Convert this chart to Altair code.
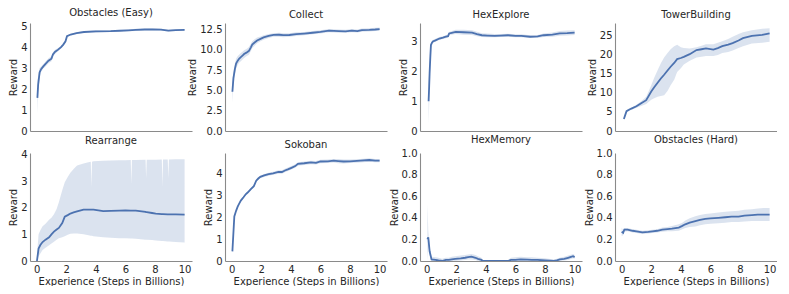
import altair as alt
import pandas as pd

BLUE = "#4c72b0"
TEXT = "#262626"
FONT = "DejaVu Sans"

# ---------------- data ----------------
names = ["Obstacles (Easy)", "Collect", "HexExplore", "TowerBuilding",
         "Rearrange", "Sokoban", "HexMemory", "Obstacles (Hard)"]

x_ticks = [0, 2, 4, 6, 8, 10]

# Obstacles (Easy)
oe_x = [0.05, 0.1, 0.2, 0.3, 0.45, 0.6, 0.8, 1.0, 1.1, 1.25, 1.45, 1.65, 1.8, 1.95, 2.05, 2.3, 2.7, 3.2, 4.0, 5.0, 5.6, 6.2, 6.7, 7.3, 7.8, 8.4, 8.9, 9.4, 10.0]
oe_m = [1.58, 2.2, 2.8, 2.95, 3.08, 3.2, 3.35, 3.45, 3.65, 3.78, 3.88, 4.0, 4.12, 4.28, 4.52, 4.6, 4.67, 4.72, 4.75, 4.76, 4.78, 4.8, 4.82, 4.84, 4.85, 4.83, 4.79, 4.81, 4.82]
oe_lo = [0.82, 1.8, 2.6, 2.83, 2.98, 3.08, 3.23, 3.33, 3.55, 3.68, 3.8, 3.93, 4.06, 4.23, 4.48, 4.56, 4.63, 4.68, 4.7, 4.72, 4.74, 4.76, 4.77, 4.8, 4.81, 4.79, 4.75, 4.77, 4.78]
oe_hi = [2.4, 2.6, 3.0, 3.07, 3.18, 3.32, 3.47, 3.57, 3.75, 3.88, 3.96, 4.07, 4.18, 4.33, 4.56, 4.64, 4.71, 4.76, 4.8, 4.8, 4.82, 4.84, 4.87, 4.88, 4.89, 4.87, 4.83, 4.85, 4.86]

# Collect
co_x = [0.05, 0.12, 0.22, 0.3, 0.4, 0.5, 0.62, 0.75, 0.84, 1.0, 1.17, 1.3, 1.39, 1.55, 1.72, 1.95, 2.16, 2.5, 2.83, 3.2, 3.49, 3.9, 4.37, 4.9, 5.47, 6.0, 6.58, 7.24, 7.7, 8.12, 8.5, 8.8, 9.3, 9.7, 10.0]
co_m = [4.84, 6.5, 7.66, 8.3, 8.63, 8.9, 9.09, 9.3, 9.48, 9.65, 9.87, 10.3, 10.64, 10.9, 11.15, 11.35, 11.53, 11.7, 11.84, 11.85, 11.8, 11.82, 11.92, 12.0, 12.1, 12.2, 12.35, 12.3, 12.28, 12.35, 12.3, 12.42, 12.45, 12.5, 12.55]
co_lo = [3.5, 5.6, 7.0, 7.7, 8.1, 8.4, 8.6, 8.85, 9.0, 9.2, 9.4, 9.85, 10.2, 10.5, 10.8, 11.05, 11.25, 11.45, 11.6, 11.6, 11.55, 11.6, 11.7, 11.8, 11.9, 12.0, 12.15, 12.1, 12.1, 12.15, 12.12, 12.22, 12.25, 12.3, 12.35]
co_hi = [6.0, 7.3, 8.3, 8.9, 9.2, 9.4, 9.6, 9.8, 9.95, 10.1, 10.35, 10.75, 11.05, 11.3, 11.5, 11.65, 11.8, 11.95, 12.05, 12.1, 12.05, 12.05, 12.15, 12.2, 12.3, 12.4, 12.55, 12.5, 12.48, 12.55, 12.5, 12.62, 12.65, 12.7, 12.75]

# HexExplore
he_x = [0.13, 0.17, 0.2, 0.25, 0.29, 0.35, 0.42, 0.6, 0.86, 1.1, 1.3, 1.45, 1.52, 1.7, 1.96, 2.5, 3.07, 3.4, 3.73, 4.1, 4.6, 5.0, 5.5, 6.0, 6.4, 7.0, 7.5, 7.9, 8.5, 9.0, 9.5, 10.0]
he_m = [1.0, 1.5, 1.94, 2.5, 2.88, 2.95, 3.0, 3.04, 3.1, 3.13, 3.16, 3.18, 3.27, 3.29, 3.32, 3.31, 3.3, 3.25, 3.21, 3.2, 3.19, 3.2, 3.21, 3.19, 3.19, 3.16, 3.17, 3.21, 3.23, 3.27, 3.28, 3.3]
he_lo = [0.25, 0.9, 1.6, 2.3, 2.8, 2.9, 2.95, 3.0, 3.05, 3.08, 3.11, 3.13, 3.22, 3.23, 3.25, 3.23, 3.22, 3.18, 3.15, 3.14, 3.14, 3.15, 3.16, 3.14, 3.14, 3.12, 3.12, 3.15, 3.16, 3.19, 3.2, 3.22]
he_hi = [1.6, 2.0, 2.3, 2.7, 2.96, 3.0, 3.05, 3.09, 3.15, 3.18, 3.21, 3.24, 3.32, 3.35, 3.39, 3.39, 3.38, 3.33, 3.28, 3.27, 3.25, 3.25, 3.26, 3.24, 3.24, 3.21, 3.22, 3.27, 3.3, 3.35, 3.37, 3.38]

# TowerBuilding
tb_x = [0.15, 0.25, 0.33, 0.5, 0.66, 1.0, 1.32, 1.66, 2.0, 2.2, 2.43, 2.65, 2.87, 3.1, 3.31, 3.55, 3.75, 4.0, 4.2, 4.6, 5.06, 5.4, 5.7, 6.2, 6.5, 6.8, 7.2, 7.5, 7.9, 8.2, 8.8, 9.5, 10.0]
tb_m = [3.16, 4.3, 5.2, 5.6, 5.9, 6.5, 7.3, 8.1, 10.4, 11.5, 12.7, 13.8, 14.8, 15.9, 16.9, 17.9, 18.9, 19.2, 19.5, 20.2, 21.3, 21.5, 21.7, 21.4, 21.8, 22.3, 22.7, 23.1, 23.8, 24.4, 25.0, 25.3, 25.7]
tb_lo = [2.9, 4.0, 4.9, 5.3, 5.6, 6.1, 6.6, 7.1, 8.2, 8.6, 9.0, 9.2, 9.4, 10.5, 12.0, 13.5, 15.5, 16.5, 17.5, 18.5, 19.3, 19.5, 19.7, 19.7, 20.0, 20.5, 20.8, 21.2, 21.8, 22.3, 23.0, 23.2, 23.5]
tb_hi = [3.4, 4.6, 5.5, 5.9, 6.2, 6.9, 7.8, 9.0, 12.0, 14.0, 16.0, 17.8, 19.3, 20.5, 21.5, 22.3, 22.7, 22.0, 21.8, 21.7, 22.0, 22.4, 22.8, 22.8, 23.2, 23.6, 24.2, 24.8, 25.5, 26.0, 26.5, 26.9, 27.0]

# Rearrange
re_x = [0.02, 0.13, 0.25, 0.4, 0.6, 0.84, 1.0, 1.17, 1.35, 1.5, 1.73, 1.9, 2.1, 2.28, 2.5, 2.73, 3.17, 3.5, 3.66, 3.7, 3.74, 3.84, 4.5, 5.0, 5.6, 6.0, 6.36, 6.4, 6.44, 6.7, 7.36, 7.4, 7.44, 7.8, 8.05, 8.46, 8.5, 8.54, 8.86, 8.9, 8.94, 9.4, 10.0]
re_m = [0.0, 0.47, 0.6, 0.71, 0.8, 0.89, 1.0, 1.1, 1.18, 1.24, 1.42, 1.66, 1.72, 1.78, 1.82, 1.86, 1.93, 1.93, 1.93, 1.93, 1.93, 1.93, 1.87, 1.88, 1.89, 1.9, 1.89, 1.89, 1.89, 1.89, 1.84, 1.83, 1.83, 1.8, 1.78, 1.76, 1.76, 1.76, 1.75, 1.75, 1.75, 1.75, 1.74]
re_lo = [0.0, 0.18, 0.28, 0.41, 0.5, 0.59, 0.66, 0.72, 0.8, 0.85, 0.89, 0.93, 0.98, 1.02, 1.03, 1.03, 1.0, 0.97, 0.95, 0.95, 0.95, 0.93, 0.89, 0.87, 0.85, 0.85, 0.84, 0.84, 0.84, 0.83, 0.8, 0.8, 0.8, 0.79, 0.77, 0.75, 0.75, 0.75, 0.73, 0.73, 0.73, 0.71, 0.69]
re_hi = [0.2, 1.0, 1.15, 1.3, 1.4, 1.55, 1.62, 1.75, 1.95, 2.2, 2.65, 2.95, 3.15, 3.31, 3.45, 3.58, 3.66, 3.7, 3.72, 2.78, 3.72, 3.74, 3.76, 3.77, 3.78, 3.78, 3.79, 2.9, 3.79, 3.79, 3.8, 3.1, 3.8, 3.8, 3.8, 3.81, 2.78, 3.81, 3.81, 3.1, 3.81, 3.82, 3.82]

# Sokoban
so_x = [0.05, 0.18, 0.3, 0.4, 0.5, 0.62, 0.8, 0.95, 1.1, 1.28, 1.5, 1.66, 1.8, 1.94, 2.2, 2.5, 2.8, 3.16, 3.4, 3.6, 3.8, 4.04, 4.3, 4.48, 4.9, 5.36, 5.7, 6.0, 6.5, 6.9, 7.2, 7.57, 8.0, 8.7, 9.3, 9.7, 10.0]
so_m = [0.44, 2.04, 2.3, 2.48, 2.62, 2.77, 2.92, 3.06, 3.15, 3.28, 3.43, 3.68, 3.78, 3.86, 3.92, 3.98, 4.02, 4.08, 4.08, 4.15, 4.2, 4.27, 4.35, 4.45, 4.48, 4.52, 4.5, 4.56, 4.57, 4.6, 4.58, 4.56, 4.57, 4.6, 4.63, 4.6, 4.6]
so_lo = [0.4, 2.0, 2.26, 2.44, 2.58, 2.73, 2.88, 3.02, 3.11, 3.24, 3.39, 3.63, 3.72, 3.8, 3.85, 3.91, 3.95, 4.0, 4.0, 4.07, 4.12, 4.19, 4.27, 4.37, 4.4, 4.44, 4.42, 4.48, 4.49, 4.52, 4.48, 4.47, 4.49, 4.52, 4.55, 4.53, 4.53]
so_hi = [0.48, 2.08, 2.34, 2.52, 2.66, 2.81, 2.96, 3.1, 3.19, 3.32, 3.47, 3.73, 3.84, 3.92, 3.99, 4.05, 4.09, 4.16, 4.16, 4.23, 4.28, 4.35, 4.43, 4.53, 4.56, 4.6, 4.58, 4.64, 4.65, 4.68, 4.68, 4.65, 4.65, 4.68, 4.71, 4.67, 4.67]

# HexMemory
hm_x = [0.05, 0.11, 0.2, 0.33, 0.6, 0.8, 1.04, 1.3, 1.5, 1.7, 1.93, 2.3, 2.6, 2.8, 3.03, 3.3, 3.47, 3.7, 3.8, 4.5, 5.0, 5.5, 5.7, 6.0, 6.35, 6.8, 7.1, 7.5, 8.0, 8.6, 8.8, 9.0, 9.3, 9.56, 9.8, 9.9, 10.0]
hm_m = [0.2, 0.22, 0.09, 0.015, 0.01, 0.005, 0.0, 0.01, 0.01, 0.015, 0.02, 0.025, 0.03, 0.035, 0.04, 0.03, 0.02, 0.01, 0.0, 0.0, 0.0, 0.0, 0.01, 0.01, 0.015, 0.012, 0.01, 0.01, 0.005, 0.0, 0.005, 0.015, 0.02, 0.03, 0.04, 0.045, 0.035]
hm_lo = [0.0, 0.15, 0.05, 0.0, 0.0, 0.0, 0.0, 0.0, 0.0, 0.0, 0.0, 0.005, 0.01, 0.015, 0.015, 0.01, 0.0, 0.0, 0.0, 0.0, 0.0, 0.0, 0.0, 0.0, 0.0, 0.0, 0.0, 0.0, 0.0, 0.0, 0.0, 0.0, 0.005, 0.01, 0.02, 0.025, 0.02]
hm_hi = [0.52, 0.28, 0.13, 0.04, 0.035, 0.03, 0.02, 0.03, 0.03, 0.04, 0.045, 0.05, 0.055, 0.06, 0.065, 0.055, 0.045, 0.03, 0.01, 0.0, 0.005, 0.01, 0.03, 0.035, 0.04, 0.035, 0.035, 0.03, 0.025, 0.015, 0.02, 0.03, 0.04, 0.05, 0.06, 0.065, 0.055]

# Obstacles (Hard)
oh_x = [0.0, 0.1, 0.18, 0.4, 0.74, 1.0, 1.4, 1.8, 2.08, 2.4, 2.75, 3.1, 3.4, 3.86, 4.1, 4.3, 4.6, 4.98, 5.3, 5.65, 6.0, 6.54, 7.0, 7.43, 7.9, 8.3, 8.8, 9.2, 9.6, 10.0]
oh_m = [0.27, 0.26, 0.29, 0.29, 0.28, 0.275, 0.265, 0.27, 0.275, 0.28, 0.29, 0.295, 0.30, 0.31, 0.325, 0.34, 0.355, 0.37, 0.38, 0.39, 0.395, 0.4, 0.405, 0.41, 0.41, 0.42, 0.425, 0.43, 0.43, 0.43]
oh_lo = [0.23, 0.24, 0.27, 0.275, 0.265, 0.26, 0.25, 0.255, 0.26, 0.265, 0.27, 0.275, 0.275, 0.28, 0.295, 0.305, 0.315, 0.32, 0.33, 0.34, 0.345, 0.35, 0.355, 0.36, 0.36, 0.365, 0.37, 0.37, 0.37, 0.37]
oh_hi = [0.31, 0.28, 0.305, 0.305, 0.295, 0.29, 0.28, 0.285, 0.29, 0.295, 0.31, 0.315, 0.325, 0.34, 0.355, 0.375, 0.395, 0.415, 0.425, 0.435, 0.44, 0.45, 0.455, 0.46, 0.465, 0.475, 0.48, 0.485, 0.49, 0.49]

series = [
    (oe_x, oe_m, oe_lo, oe_hi),
    (co_x, co_m, co_lo, co_hi),
    (he_x, he_m, he_lo, he_hi),
    (tb_x, tb_m, tb_lo, tb_hi),
    (re_x, re_m, re_lo, re_hi),
    (so_x, so_m, so_lo, so_hi),
    (hm_x, hm_m, hm_lo, hm_hi),
    (oh_x, oh_m, oh_lo, oh_hi),
]

y_max = [5.15, 13.3, 3.62, 28.4, 4.05, 4.95, 1.0, 1.0]
y_ticks = [
    [0, 1, 2, 3, 4, 5],
    [0.0, 2.5, 5.0, 7.5, 10.0, 12.5],
    [0, 1, 2, 3],
    [0, 5, 10, 15, 20, 25],
    [0, 1, 2, 3, 4],
    [0, 1, 2, 3, 4],
    [0.0, 0.2, 0.4, 0.6, 0.8, 1.0],
    [0.0, 0.2, 0.4, 0.6, 0.8, 1.0],
]
y_fmt = ["d", ".1f", "d", "d", "d", "d", ".1f", ".1f"]

W, H = 162, 108


def panel(i):
    xs, ms, los, his = series[i]
    df = pd.DataFrame({"x": xs, "mean": ms, "lo": los, "hi": his})
    bottom = i >= 4
    xscale = alt.Scale(domain=[-0.45, 10.5], nice=False, zero=False)
    if bottom:
        xaxis = alt.Axis(values=x_ticks, tickCount=20, format="d",
                         labelOverlap=False, labelFlush=False,
                         title="Experience (Steps in Billions)")
    else:
        xaxis = alt.Axis(labels=False, ticks=False, title=None)
    yscale = alt.Scale(domain=[0, y_max[i]], nice=False, zero=True)
    yaxis = alt.Axis(values=y_ticks[i], tickCount=20, format=y_fmt[i],
                     labelOverlap=False, labelFlush=False, title="Reward")
    base = alt.Chart(df)
    band = base.mark_area(color=BLUE, opacity=0.2, clip=True).encode(
        x=alt.X("x:Q", scale=xscale, axis=xaxis),
        y=alt.Y("lo:Q", scale=yscale, axis=yaxis),
        y2="hi:Q",
    )
    line = base.mark_line(color=BLUE, strokeWidth=1.8, clip=True).encode(
        x="x:Q", y="mean:Q"
    )
    return alt.layer(band, line).properties(
        width=W, height=H, title=alt.TitleParams(names[i])
    )


charts = [panel(i) for i in range(8)]

chart = (
    alt.concat(*charts, columns=4, spacing={"row": 22, "column": 33},
               bounds="flush")
    .properties(padding=0)
    .configure_view(stroke=None)
    .configure_axis(
        grid=False,
        ticks=False,
        domainColor="#8a8a8a",
        domainWidth=1.1,
        labelFont=FONT,
        labelFontSize=10,
        labelColor=TEXT,
        labelPadding=3,
        titleFont=FONT,
        titleFontSize=10,
        titleFontWeight="normal",
        titleColor=TEXT,
        titlePadding=2,
    )
    .configure_title(font=FONT, fontSize=10, fontWeight="normal",
                     color=TEXT, offset=3, anchor="middle")
)

chart.save("out.html", embed_options={"renderer": "svg", "actions": False})
